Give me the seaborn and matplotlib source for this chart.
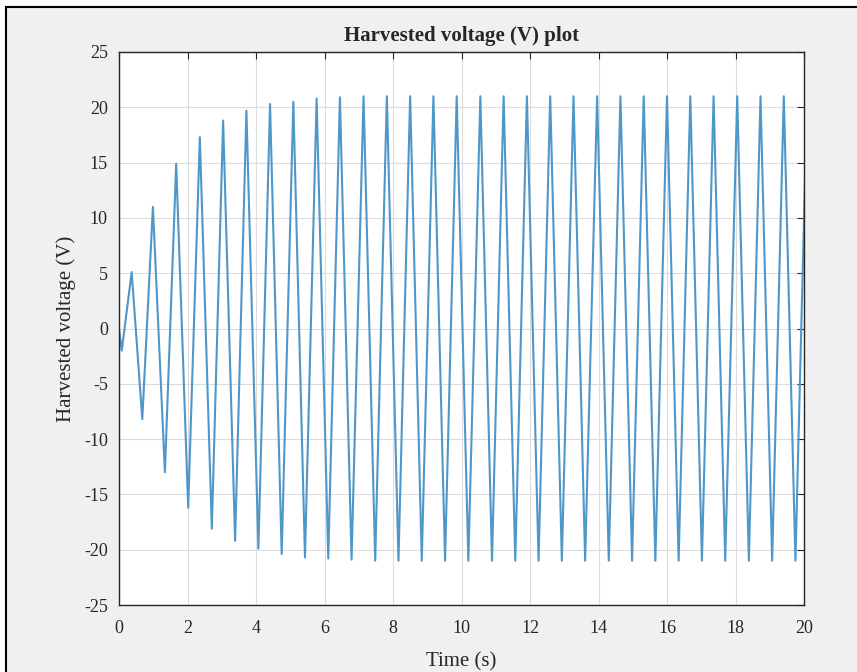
import seaborn as sns
import matplotlib.pyplot as plt
import matplotlib.patches as mpatches
import pandas as pd

# extrema of the harvested voltage (time in s, voltage in V)
peak_t = [0.37, 0.99, 1.67, 2.36, 3.04, 3.72, 4.41, 5.09, 5.77, 6.45,
          7.14, 7.82, 8.50, 9.18, 9.86, 10.55, 11.23, 11.91, 12.59, 13.27,
          13.96, 14.64, 15.32, 16.00, 16.68, 17.36, 18.05, 18.73, 19.41, 20.09]
peak_v = [5.1, 11.0, 14.9, 17.3, 18.8, 19.7, 20.3, 20.5, 20.8, 20.9,
          21.0, 21.0, 21.0, 21.0, 21.0, 21.0, 21.0, 21.0, 21.0, 21.0,
          21.0, 21.0, 21.0, 21.0, 21.0, 21.0, 21.0, 21.0, 21.0, 21.0]
trough_t = [0.08, 0.68, 1.34, 2.02, 2.71, 3.39, 4.07, 4.75, 5.43, 6.11,
            6.79, 7.48, 8.16, 8.84, 9.52, 10.20, 10.89, 11.57, 12.25, 12.93,
            13.61, 14.30, 14.98, 15.66, 16.34, 17.02, 17.70, 18.39, 19.07, 19.75]
trough_v = [-2.0, -8.2, -13.0, -16.2, -18.1, -19.2, -19.9, -20.4, -20.7, -20.8,
            -20.9, -21.0, -21.0, -21.0, -21.0, -21.0, -21.0, -21.0, -21.0, -21.0,
            -21.0, -21.0, -21.0, -21.0, -21.0, -21.0, -21.0, -21.0, -21.0, -21.0]
start_t = [0.0]
start_v = [0.0]

x_ticks = [0, 2, 4, 6, 8, 10, 12, 14, 16, 18, 20]
y_ticks = [-25, -20, -15, -10, -5, 0, 5, 10, 15, 20, 25]

# alternate trough / peak in time order
t_all = list(start_t)
v_all = list(start_v)
for i in range(len(peak_t)):
    t_all += [trough_t[i], peak_t[i]]
    v_all += [trough_v[i], peak_v[i]]
volt = pd.DataFrame({'tempo': t_all, 'tensao': v_all})

sns.set_style('whitegrid')
plt.rcParams['font.family'] = ['Liberation Serif', 'DejaVu Serif']
plt.rcParams['axes.unicode_minus'] = False

fig = plt.figure(figsize=(8.57, 6.72), dpi=100, facecolor='white')
# grey panel with black edge like the MATLAB window capture
fig.patches.append(mpatches.Rectangle((6/857, -0.01), 1.01, 1 - 7/672 + 0.01,
                                      transform=fig.transFigure, facecolor='#f0f0f0',
                                      edgecolor='black', linewidth=1.5, zorder=-10))
ax = fig.add_axes([119/857, 1 - 605/672, (804 - 119)/857, (605 - 52)/672])
ax.set_facecolor('white')

grafico = sns.lineplot(data=volt, x='tempo', y='tensao', sort=False, estimator=None,
                       color='#4f97c9', linewidth=1.5, ax=ax)

grafico.set_xlim(0, 20)
grafico.set_ylim(-25, 25)
grafico.set_xticks(x_ticks)
grafico.set_yticks(y_ticks)
grafico.grid(True, color='#dcdcdc', linewidth=0.8)
grafico.tick_params(direction='in', length=5, width=0.8, color='#262626',
                    labelsize=13, top=True, right=True, labelcolor='#262626')
grafico.tick_params(axis='x', pad=11)
grafico.tick_params(axis='y', pad=8)
for s in grafico.spines.values():
    s.set_color('#262626')
    s.set_linewidth(1.0)

grafico.set_title('Harvested voltage (V) plot', fontsize=15, fontweight='bold', pad=8)
grafico.set_xlabel('Time (s)', fontsize=15, labelpad=11)
grafico.set_ylabel('Harvested voltage (V)', fontsize=15, labelpad=6)

plt.savefig('out.png', dpi=100, facecolor=fig.get_facecolor())
